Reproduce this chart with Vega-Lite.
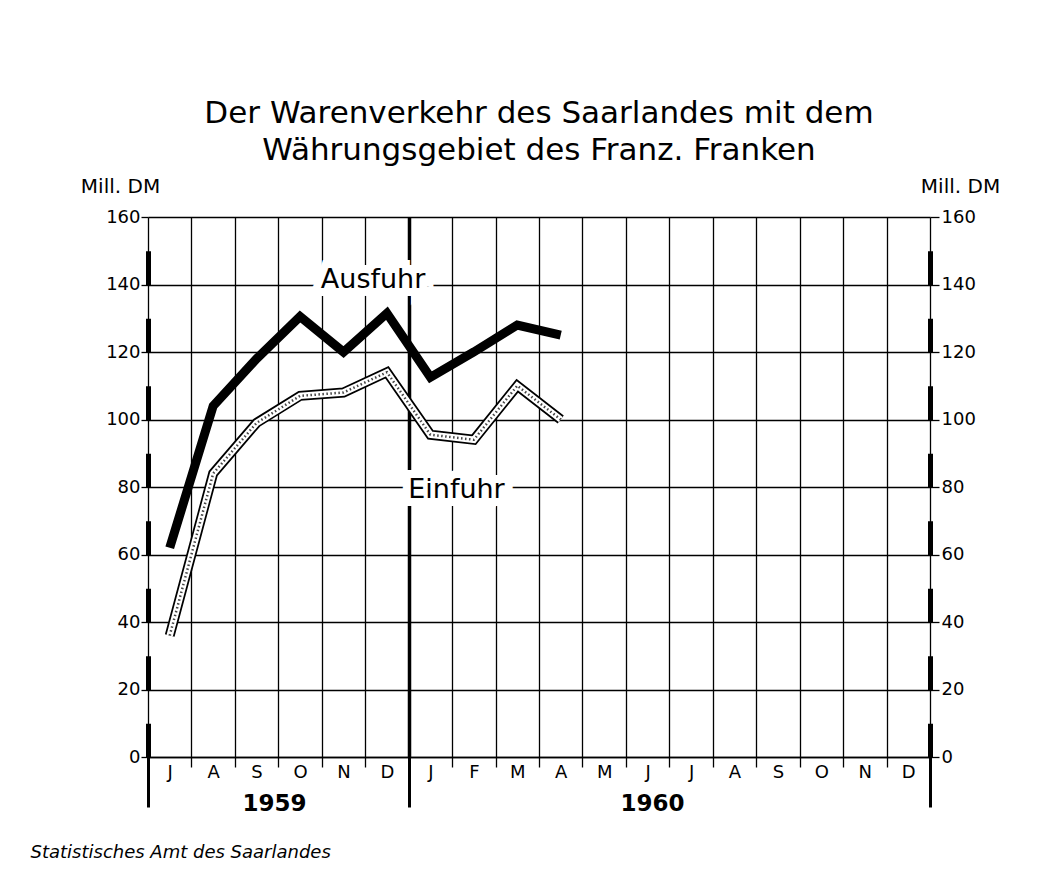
{
  "$schema": "https://vega.github.io/schema/vega-lite/v6.json",
  "width": 782,
  "height": 540,
  "autosize": "none",
  "padding": {"left": 148, "top": 217, "right": 119, "bottom": 119},
  "background": "white",
  "config": {"view": {"stroke": null}, "font": "DejaVu Sans"},
  "title": {
    "text": ["Der Warenverkehr des Saarlandes mit dem", "Währungsgebiet des Franz. Franken"],
    "font": "DejaVu Sans",
    "fontSize": 31,
    "fontWeight": "normal",
    "lineHeight": 37,
    "color": "black",
    "anchor": "middle",
    "frame": "group",
    "offset": 9
  },
  "data": {
    "values": [
      {"Monat": "1959-07", "Nr": 1, "Reihe": "Ausfuhr", "Wert": 62},
      {"Monat": "1959-08", "Nr": 2, "Reihe": "Ausfuhr", "Wert": 104},
      {"Monat": "1959-09", "Nr": 3, "Reihe": "Ausfuhr", "Wert": 118},
      {"Monat": "1959-10", "Nr": 4, "Reihe": "Ausfuhr", "Wert": 130.5},
      {"Monat": "1959-11", "Nr": 5, "Reihe": "Ausfuhr", "Wert": 120},
      {"Monat": "1959-12", "Nr": 6, "Reihe": "Ausfuhr", "Wert": 131.5},
      {"Monat": "1960-01", "Nr": 7, "Reihe": "Ausfuhr", "Wert": 112.5},
      {"Monat": "1960-02", "Nr": 8, "Reihe": "Ausfuhr", "Wert": 120},
      {"Monat": "1960-03", "Nr": 9, "Reihe": "Ausfuhr", "Wert": 128},
      {"Monat": "1960-04", "Nr": 10, "Reihe": "Ausfuhr", "Wert": 125},
      {"Monat": "1959-07", "Nr": 1, "Reihe": "Einfuhr", "Wert": 36},
      {"Monat": "1959-08", "Nr": 2, "Reihe": "Einfuhr", "Wert": 84},
      {"Monat": "1959-09", "Nr": 3, "Reihe": "Einfuhr", "Wert": 99},
      {"Monat": "1959-10", "Nr": 4, "Reihe": "Einfuhr", "Wert": 107},
      {"Monat": "1959-11", "Nr": 5, "Reihe": "Einfuhr", "Wert": 108},
      {"Monat": "1959-12", "Nr": 6, "Reihe": "Einfuhr", "Wert": 114},
      {"Monat": "1960-01", "Nr": 7, "Reihe": "Einfuhr", "Wert": 95.5},
      {"Monat": "1960-02", "Nr": 8, "Reihe": "Einfuhr", "Wert": 94},
      {"Monat": "1960-03", "Nr": 9, "Reihe": "Einfuhr", "Wert": 110},
      {"Monat": "1960-04", "Nr": 10, "Reihe": "Einfuhr", "Wert": 100}
    ]
  },
  "layer": [
    {
      "transform": [{"filter": "datum.Reihe === 'Einfuhr'"}],
      "mark": {"type": "line", "color": "black", "strokeWidth": 10},
      "encoding": {
        "x": {
          "field": "Nr", "type": "quantitative",
          "scale": {"domain": [0.5, 18.5], "nice": false, "zero": false},
          "axis": {
            "values": [0.5, 1.5, 2.5, 3.5, 4.5, 5.5, 6.5, 7.5, 8.5, 9.5, 10.5, 11.5, 12.5, 13.5, 14.5, 15.5, 16.5, 17.5, 18.5],
            "grid": true, "gridColor": "black", "gridOpacity": 1,
            "gridWidth": {"condition": {"test": "datum.value === 6.5", "value": 3.5}, "value": 1.3},
            "domain": true, "domainColor": "black", "domainWidth": 1.5,
            "ticks": true, "tickColor": "black",
            "tickWidth": {"condition": {"test": "datum.value === 0.5 || datum.value === 6.5 || datum.value === 18.5", "value": 3}, "value": 1.3},
            "tickSize": {"condition": {"test": "datum.value === 0.5 || datum.value === 6.5 || datum.value === 18.5", "value": 50}, "value": 10},
            "labelPadding": {"condition": {"test": "datum.value === 0.5 || datum.value === 6.5 || datum.value === 18.5", "value": -44}, "value": -4},
            "labelExpr": "['J','A','S','O','N','D','J','F','M','A','M','J','J','A','S','O','N','D',''][floor(datum.value)]",
            "labelOffset": 21.7, "labelFontSize": 18, "labelColor": "black",
            "labelOverlap": false, "labelBound": false, "labelFlush": false,
            "title": null
          }
        },
        "y": {
          "field": "Wert", "type": "quantitative",
          "scale": {"domain": [0, 160], "nice": false},
          "axis": {
            "orient": "left",
            "values": [0, 20, 40, 60, 80, 100, 120, 140, 160],
            "grid": true, "gridColor": "black", "gridOpacity": 1, "gridWidth": 1.3,
            "domain": true, "domainColor": "black", "domainWidth": 5, "domainDash": [33.75, 33.75],
            "ticks": true, "tickColor": "black", "tickSize": 7, "tickWidth": 1.3,
            "labelFontSize": 18, "labelColor": "black", "labelPadding": 1,
            "title": "Mill. DM", "titleAngle": 0, "titleX": -28, "titleY": -21,
            "titleAlign": "center", "titleBaseline": "bottom",
            "titleFontSize": 20, "titleFontWeight": "normal", "titleColor": "black"
          }
        }
      }
    },
    {
      "transform": [{"filter": "datum.Reihe === 'Einfuhr'"}],
      "mark": {"type": "line", "color": "white", "strokeWidth": 6.5},
      "encoding": {
        "x": {"field": "Nr", "type": "quantitative", "axis": null},
        "y": {"field": "Wert", "type": "quantitative", "axis": null}
      }
    },
    {
      "transform": [{"filter": "datum.Reihe === 'Einfuhr'"}],
      "mark": {"type": "line", "color": "#444444", "strokeWidth": 2.5, "strokeDash": [1.5, 2.5]},
      "encoding": {
        "x": {"field": "Nr", "type": "quantitative", "axis": null},
        "y": {"field": "Wert", "type": "quantitative", "axis": null}
      }
    },
    {
      "transform": [{"filter": "datum.Reihe === 'Ausfuhr'"}],
      "mark": {"type": "line", "color": "black", "strokeWidth": 9},
      "encoding": {
        "x": {
          "field": "Nr", "type": "quantitative",
          "axis": {
            "orient": "bottom",
            "values": [3.4, 12.1],
            "grid": false, "domain": false, "ticks": false,
            "labelExpr": "datum.value < 6 ? '1959' : '1960'",
            "labelFontSize": 23, "labelFontWeight": "bold", "labelColor": "black", "labelPadding": 35,
            "labelOverlap": false, "labelBound": false, "labelFlush": false,
            "title": "Statistisches Amt des Saarlandes",
            "titleX": -118, "titleY": 100, "titleAlign": "left", "titleBaseline": "alphabetic",
            "titleFontSize": 18, "titleFontStyle": "italic", "titleFontWeight": "normal", "titleColor": "black"
          }
        },
        "y": {
          "field": "Wert", "type": "quantitative",
          "axis": {
            "orient": "right",
            "values": [0, 20, 40, 60, 80, 100, 120, 140, 160],
            "grid": false,
            "domain": true, "domainColor": "black", "domainWidth": 5, "domainDash": [33.75, 33.75],
            "ticks": true, "tickColor": "black", "tickSize": 9, "tickWidth": 1.3,
            "labelFontSize": 18, "labelColor": "black", "labelPadding": 2,
            "title": "Mill. DM", "titleAngle": 0, "titleX": 30, "titleY": -21,
            "titleAlign": "center", "titleBaseline": "bottom",
            "titleFontSize": 20, "titleFontWeight": "normal", "titleColor": "black"
          }
        }
      }
    },
    {
      "data": {"values": [
        {"Text": "Ausfuhr", "Nr": 5.68, "Wert": 141.3},
        {"Text": "Einfuhr", "Nr": 7.6, "Wert": 79}
      ]},
      "mark": {"type": "text", "fontSize": 27, "fontWeight": "normal", "stroke": "white", "strokeWidth": 16, "color": "white"},
      "encoding": {
        "x": {"field": "Nr", "type": "quantitative", "axis": null},
        "y": {"field": "Wert", "type": "quantitative", "axis": null},
        "text": {"field": "Text"}
      }
    },
    {
      "data": {"values": [
        {"Text": "Ausfuhr", "Nr": 5.68, "Wert": 141.3},
        {"Text": "Einfuhr", "Nr": 7.6, "Wert": 79}
      ]},
      "mark": {"type": "text", "fontSize": 27, "fontWeight": "normal", "color": "black"},
      "encoding": {
        "x": {"field": "Nr", "type": "quantitative", "axis": null},
        "y": {"field": "Wert", "type": "quantitative", "axis": null},
        "text": {"field": "Text"}
      }
    }
  ],
  "resolve": {"axis": {"x": "independent", "y": "independent"}}
}
